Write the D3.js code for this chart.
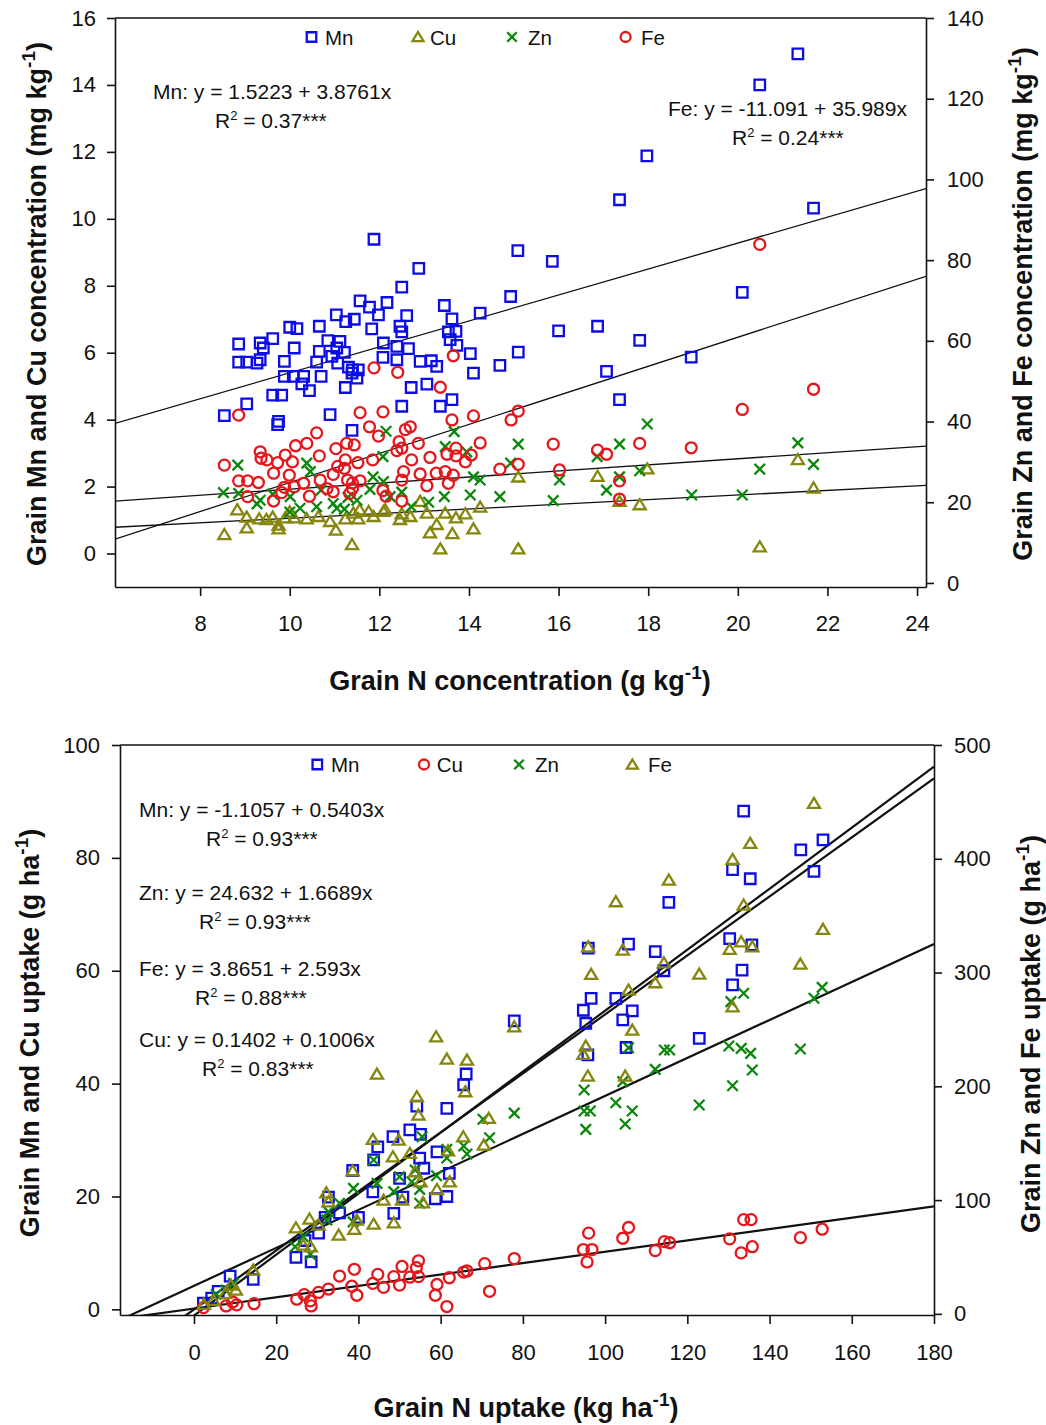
<!DOCTYPE html>
<html lang="en">
<head>
<meta charset="UTF-8">
<title>grain N vs micronutrients</title>
<script src="https://d3js.org/d3.v7.min.js"></script>
<style>
    body{margin:0;background:#fff;}
    svg text{font-family:"Liberation Sans", Arial, sans-serif; fill:#111;}
</style>
</head>
<body>
<svg id="fig" width="1046" height="1425"></svg>
<script>
    // ---- top panel: concentration (x = grain N g/kg) ----
    let concMn = [[11.88,9.39],[15.09,9.05],[15.86,8.73],[12.88,8.52],[12.50,7.96],[21.34,14.93],[20.49,14.0],[17.97,11.88],
        [17.36,10.57],[21.69,10.32],[20.10,7.80],[14.93,7.68],[16.0,6.65],[16.87,6.79],[17.81,6.37],[15.10,6.02],[18.96,5.87],
        [14.69,5.62],[17.07,5.44],[17.36,4.60],[11.57,7.55],[11.78,7.36],[12.17,7.50],[13.45,7.41],[11.04,7.13],[11.25,6.93],
        [11.44,7.0],[11.98,7.13],[12.61,7.11],[13.62,7.01],[14.25,7.18],[10.0,6.76],[10.16,6.72],[10.66,6.79],[11.83,6.71],
        [12.46,6.79],[12.50,6.62],[13.54,6.62],[13.71,6.64],[13.58,6.39],[8.86,6.26],[9.34,6.29],[9.41,6.14],[9.62,6.42],
        [10.10,6.14],[10.85,6.36],[11.12,6.34],[10.66,6.04],[10.94,5.89],[11.05,6.14],[11.22,6.01],[12.09,6.29],[12.39,6.19],
        [12.65,6.12],[12.39,5.79],[12.08,5.86],[13.73,6.22],[14.03,5.97],[8.86,5.72],[9.04,5.72],[9.27,5.69],[9.34,5.79],
        [9.88,5.74],[10.60,5.72],[11.07,5.69],[11.31,5.57],[11.40,5.49],[11.53,5.49],[12.91,5.74],[13.16,5.76],[13.28,5.59],
        [14.10,5.39],[9.88,5.29],[10.08,5.29],[10.31,5.29],[10.27,5.07],[10.44,4.87],[10.70,5.29],[11.39,5.39],[11.50,5.24],
        [11.24,4.96],[12.71,4.96],[13.06,5.06],[9.62,4.73],[9.82,4.73],[9.04,4.47],[8.54,4.12],[12.50,4.40],[13.36,4.40],
        [13.62,4.60],[10.90,4.15],[9.75,3.95],[9.73,3.85],[11.39,3.68]]
    let concCu = [[21.34,2.81],[15.10,2.29],[16.87,2.31],[17.98,2.53],[21.69,1.96],[17.36,1.56],[17.81,1.46],[15.10,0.14],
        [20.49,0.20],[14.25,1.39],[13.92,1.19],[12.91,1.56],[13.06,1.21],[13.47,1.21],[13.71,1.07],[13.28,0.87],[13.13,0.62],
        [13.63,0.60],[14.10,0.74],[13.36,0.14],[11.39,0.27],[8.54,0.57],[9.04,0.77],[9.75,0.74],[9.75,0.85],[11.03,0.70],
        [8.83,1.31],[9.04,1.09],[9.32,1.04],[9.48,1.02],[9.62,1.09],[9.90,1.07],[10.10,1.07],[10.38,1.04],[10.64,1.11],
        [10.90,0.96],[11.24,1.04],[11.42,1.21],[11.56,1.31],[11.76,1.26],[11.87,1.11],[12.09,1.26],[12.13,1.31],[12.46,1.02],
        [12.50,1.19],[12.69,1.11],[11.53,1.04],[10.0,1.25]]
    let concZn = [[17.98,39.4],[15.10,34.4],[17.36,34.4],[21.34,34.7],[14.93,29.7],[16.86,31.3],[21.69,29.4],[20.49,28.2],
        [17.81,27.8],[16.02,25.5],[17.36,26.3],[17.07,23.0],[14.69,21.4],[18.97,21.8],[20.10,21.8],[15.88,20.4],[12.15,37.6],
        [13.67,37.5],[12.08,31.3],[8.84,29.2],[10.38,29.7],[10.46,27.6],[13.47,33.8],[13.95,32.5],[8.52,22.4],[8.86,22.2],
        [9.34,20.5],[9.27,19.6],[10.01,21.4],[10.23,18.5],[10.60,18.9],[10.97,19.7],[11.05,18.5],[11.22,18.3],[11.86,26.3],
        [12.09,25.1],[11.79,23.2],[12.24,21.4],[12.71,18.9],[13.45,21.4],[14.03,21.8],[14.10,26.3],[14.25,25.5],[10.0,17.6],
        [9.62,22.0],[11.5,20.5],[12.5,22.5],[13.1,20.0],[10.7,23.0],[11.3,21.2]]
    let concFe = [[20.49,83.9],[21.69,48.0],[20.10,43.0],[15.10,42.6],[14.94,40.4],[15.88,34.4],[17.81,34.6],[18.96,33.5],
        [16.87,32.9],[17.07,31.9],[15.10,29.4],[14.69,28.2],[16.02,28.0],[17.36,25.3],[17.36,20.8],[13.65,56.3],[11.88,53.3],
        [12.41,52.2],[13.36,48.5],[8.86,41.6],[11.57,42.2],[12.08,42.4],[13.62,40.4],[14.10,41.4],[11.78,38.7],[11.98,36.4],
        [12.58,38.0],[12.69,38.7],[10.60,37.2],[9.34,32.5],[9.36,30.9],[9.49,30.5],[10.13,34.0],[10.38,34.6],[11.03,33.3],
        [11.27,34.6],[11.44,34.2],[12.44,35.0],[12.50,33.4],[12.87,34.6],[14.25,34.7],[9.90,31.7],[10.06,30.0],[10.66,31.5],
        [11.24,30.5],[11.52,29.8],[11.85,30.5],[12.39,32.8],[12.72,30.5],[13.13,31.1],[13.51,31.9],[13.71,33.4],[13.71,31.5],
        [14.05,31.7],[13.92,30.0],[8.54,29.2],[9.73,29.8],[9.64,27.2],[9.99,26.7],[10.97,26.9],[11.07,28.9],[11.22,28.4],
        [11.29,25.5],[11.40,24.8],[11.57,25.3],[12.54,27.6],[12.50,25.5],[12.91,27.0],[13.27,27.2],[13.47,27.6],[13.65,26.7],
        [13.54,24.7],[8.86,25.3],[9.06,25.3],[9.30,24.9],[9.88,23.7],[10.10,23.8],[10.31,24.7],[10.68,25.5],[10.83,23.4],
        [10.97,22.6],[11.40,23.4],[11.34,22.2],[12.08,22.9],[12.15,21.5],[13.06,24.1],[12.50,20.3],[9.06,21.4],[9.64,20.3],
        [9.82,22.4],[10.44,21.5]]
    // fitted lines, x of the printed equations is N in % (g/kg / 10)
    let concFits = [
        {el:"Mn", a:1.5223, b:3.8761, axis:"L"},
        {el:"Cu", a:0.362, b:0.693, axis:"L"},
        {el:"Zn", a:15.71, b:7.53, axis:"R"},
        {el:"Fe", a:-11.091, b:35.989, axis:"R"}]
    let concNotes = [["Mn: y = 1.5223 + 3.8761x", "0.37***"], ["Fe: y = -11.091 + 35.989x", "0.24***"]]
    let concXTicks = [8, 10, 12, 14, 16, 18, 20, 22, 24]
    let concYLTicks = [0, 2, 4, 6, 8, 10, 12, 14, 16]
    let concYRTicks = [0, 20, 40, 60, 80, 100, 120, 140]

    // ---- bottom panel: uptake (x = grain N uptake kg/ha) ----
    let uptMn = [[133.7,88.3],[153.0,83.2],[147.6,81.4],[131.0,77.9],[135.3,76.3],[150.8,77.6],[115.5,72.1],[95.9,64.0],
        [105.7,64.7],[112.2,63.4],[130.3,65.7],[135.7,64.6],[133.3,60.1],[131.0,57.5],[96.6,55.1],[102.6,55.1],[94.7,53.0],
        [106.6,52.9],[104.3,51.3],[95.3,50.7],[114.3,60.0],[77.9,51.1],[122.9,48.0],[105.1,46.4],[95.8,45.1],[66.2,41.7],
        [65.6,39.8],[61.5,35.6],[54.2,36.0],[52.5,31.8],[55.1,31.0],[48.4,30.6],[44.7,28.8],[59.1,27.9],[54.9,26.8],
        [43.7,26.5],[38.6,24.6],[55.9,25.0],[62.1,24.1],[50.0,23.2],[43.5,20.8],[50.8,19.9],[58.7,19.6],[61.5,20.0],
        [48.6,17.0],[32.7,19.9],[31.9,16.3],[35.4,17.1],[40.0,16.3],[30.3,13.5],[27.0,12.2],[24.8,9.2],[28.5,8.4],
        [14.4,5.3],[8.8,5.9],[5.9,3.2],[4.3,2.0],[2.3,1.1]]
    let uptCu = [[152.8,14.2],[147.5,12.7],[133.7,15.9],[135.5,15.9],[130.3,12.5],[135.8,11.1],[133.1,10.0],[114.4,12.0],
        [115.7,11.8],[112.2,10.4],[105.7,14.5],[104.3,12.6],[96.0,13.5],[94.7,10.6],[96.8,10.6],[95.6,8.4],[77.9,9.0],
        [70.7,8.1],[71.9,3.2],[65.6,6.6],[66.4,6.8],[62.1,5.6],[59.1,4.4],[58.7,2.5],[61.5,0.5],[54.6,8.6],[54.1,7.4],
        [50.6,7.6],[54.6,5.8],[52.5,5.7],[48.6,5.8],[50.0,4.3],[46.1,3.9],[44.7,6.2],[43.5,4.6],[39.0,7.1],[38.4,4.1],
        [39.6,2.5],[35.4,5.9],[32.7,3.6],[30.3,3.0],[26.8,2.6],[25.0,1.8],[28.3,1.5],[28.5,0.6],[14.6,1.0],[10.4,0.8],
        [9.4,1.3],[7.8,0.6],[2.3,0.3]]
    let uptZn = [[133.7,281.8],[130.6,274.4],[150.8,277.4],[152.8,287.0],[94.9,196.8],[130.1,235.4],[133.1,233.4],
        [135.4,229.0],[135.8,214.3],[147.5,232.8],[131.0,200.5],[114.4,231.9],[115.7,231.9],[112.2,214.9],[122.9,183.6],
        [105.7,233.9],[104.3,204.1],[102.6,185.6],[106.6,178.3],[104.9,166.9],[94.9,178.3],[96.4,178.3],[95.3,162.2],
        [77.9,176.4],[70.3,171.0],[71.9,154.8],[65.6,147.5],[66.4,140.5],[61.5,144.6],[61.5,137.0],[59.0,121.4],[55.5,155.7],
        [53.8,126.4],[54.9,109.4],[54.9,97.2],[50.0,120.5],[48.6,107.4],[44.5,114.7],[43.7,135.2],[38.8,110.3],[38.7,80.9],
        [35.4,97.2],[32.7,89.8],[32.3,82.5],[26.6,67.8],[24.6,59.0],[28.3,52.3],[9.6,26.8],[7.8,21.0],[5.4,17.0],[53.0,116.1]]
    let uptFe = [[150.8,448.7],[135.3,413.6],[131.0,399.5],[115.5,381.3],[102.6,362.3],[133.7,359.4],[153.0,338.0],
        [95.9,322.7],[104.3,319.8],[130.3,320.4],[133.1,327.1],[135.8,322.7],[114.3,308.6],[147.5,307.5],[96.6,298.5],
        [122.9,298.7],[112.2,291.1],[105.7,284.6],[131.0,270.0],[77.9,252.4],[106.6,249.5],[95.3,235.4],[94.7,228.1],
        [95.8,209.1],[104.9,209.1],[58.9,243.6],[44.5,210.8],[61.5,224.0],[66.4,223.1],[66.0,195.3],[54.2,190.9],
        [54.6,174.8],[71.7,171.9],[65.5,155.7],[70.5,148.4],[61.8,143.4],[43.5,153.4],[49.8,152.8],[48.4,138.1],
        [52.5,141.1],[38.6,125.8],[53.8,125.0],[55.1,116.1],[62.2,116.1],[59.1,109.4],[46.1,100.0],[50.6,100.0],
        [55.7,97.7],[48.6,80.1],[43.7,78.9],[39.0,74.3],[39.6,82.5],[35.2,69.3],[32.2,106.5],[32.7,98.6],[28.1,83.4],
        [30.3,78.1],[24.8,75.7],[26.6,60.5],[28.4,59.0],[14.4,38.5],[9.0,25.3],[10.2,20.9],[7.6,17.9],[4.7,12.0],[2.4,8.5]]
    let uptFits = [
        {el:"Mn", a:-1.1057, b:0.5403, axis:"L"},
        {el:"Zn", a:24.632, b:1.6689, axis:"R"},
        {el:"Fe", a:3.8651, b:2.593, axis:"R"},
        {el:"Cu", a:0.1402, b:0.1006, axis:"L"}]
    let uptNotes = [["Mn: y = -1.1057 + 0.5403x", "0.93***"], ["Zn: y = 24.632 + 1.6689x", "0.93***"],
        ["Fe: y = 3.8651 + 2.593x", "0.88***"], ["Cu: y = 0.1402 + 0.1006x", "0.83***"]]
    let uptXTicks = [0, 20, 40, 60, 80, 100, 120, 140, 160, 180]
    let uptYLTicks = [0, 20, 40, 60, 80, 100]
    let uptYRTicks = [0, 100, 200, 300, 400, 500]

    let colors = {blue:"#0c0ce6", red:"#e5171c", green:"#0c870c", olive:"#86860e"}
    let svg = d3.select("#fig")

    function symPath(shape, s){
        let r = s / 2
        if (shape === "square") return `M${-r},${-r}h${s}v${s}h${-s}Z`
        if (shape === "circle") return `M${-r},0a${r},${r} 0 1,0 ${s},0a${r},${r} 0 1,0 ${-s},0Z`
        if (shape === "triangle") return `M0,${-r*0.95}L${r*1.05},${r*0.8}L${-r*1.05},${r*0.8}Z`
        return `M${-r},${-r}L${r},${r}M${-r},${r}L${r},${-r}`
    }

    // text with one raised piece, e.g. R^2 or kg^-1
    function supText(sel, before, sup, after, supSize, rise){
        sel.append("tspan").text(before)
        sel.append("tspan").attr("dy", -rise).style("font-size", supSize + "px").text(sup)
        sel.append("tspan").attr("dy", rise).text(after)
        return sel
    }

    function styleAxis(ax, fs){
        ax.attr("font-family", null).attr("font-size", null)
        ax.selectAll("text").style("font-size", fs + "px").style("fill", "#111")
        ax.selectAll("line,path").attr("stroke", "#111").attr("stroke-width", 1.6)
    }

    function drawPanel(p){
        let x = d3.scaleLinear().domain(p.xDom).range([p.left, p.right])
        let yL = d3.scaleLinear().domain(p.yLDom).range([p.bottom, p.top])
        let yR = d3.scaleLinear().domain(p.yRDom).range([p.bottom, p.top])
        let g = svg.append("g")
        g.append("clipPath").attr("id", "clip" + p.id).append("rect")
            .attr("x", p.left).attr("y", p.top)
            .attr("width", p.right - p.left).attr("height", p.bottom - p.top)

        // regression lines
        let lg = g.append("g").attr("clip-path", `url(#clip${p.id})`)
        p.fits.forEach(function (f){
            let ys = f.axis === "L" ? yL : yR
            let line = d3.line().x(d => x(d)).y(d => ys(f.a + f.b * d * p.eqScale))
            lg.append("path").datum(p.xDom).attr("d", line)
                .attr("fill", "none").attr("stroke", "#111").attr("stroke-width", p.lineW)
        })

        // points
        p.series.forEach(function (s){
            let ys = s.axis === "L" ? yL : yR
            g.append("g").selectAll("path").data(s.data).join("path")
                .attr("transform", d => `translate(${x(d[0])},${ys(d[1])})`)
                .attr("d", symPath(s.shape, s.size))
                .attr("fill", "none").attr("stroke", s.color).attr("stroke-width", 2.3)
        })

        // axes and frame
        let axL = g.append("g").attr("transform", `translate(${p.left},0)`)
            .call(d3.axisLeft(yL).tickValues(p.yLTicks).tickSize(8).tickSizeOuter(0).tickPadding(p.padL))
        let axR = g.append("g").attr("transform", `translate(${p.right},0)`)
            .call(d3.axisRight(yR).tickValues(p.yRTicks).tickSize(8).tickSizeOuter(0).tickPadding(p.padR))
        let axB = g.append("g").attr("transform", `translate(0,${p.bottom})`)
            .call(d3.axisBottom(x).tickValues(p.xTicks).tickSize(9).tickSizeOuter(0).tickPadding(p.padB))
        styleAxis(axL, 22); styleAxis(axR, 22); styleAxis(axB, 22)
        g.append("line").attr("x1", p.left).attr("x2", p.right).attr("y1", p.top).attr("y2", p.top)
            .attr("stroke", "#111").attr("stroke-width", 1.6)

        // legend
        p.series.forEach(function (s, i){
            g.append("path").attr("transform", `translate(${p.legMark[i]},${p.legY})`)
                .attr("d", symPath(s.shape, s.size - 1))
                .attr("fill", "none").attr("stroke", s.color).attr("stroke-width", 2.3)
            g.append("text").attr("x", p.legText[i]).attr("y", p.legY + 7.5)
                .style("font-size", "20.5px").text(s.label)
        })

        // equations
        p.notes.forEach(function (n, i){
            let pos = p.notePos[i]
            g.append("text").attr("x", pos[0]).attr("y", pos[1]).style("font-size", "21px").text(n[0])
            supText(g.append("text").attr("x", pos[2]).attr("y", pos[1] + 29).style("font-size", "21px"),
                "R", "2", " = " + n[1], 13, 8)
        })

        // axis titles
        supText(g.append("text").attr("x", p.xTitle[0]).attr("y", p.xTitle[1])
            .attr("text-anchor", "middle").style("font-size", "27px").style("font-weight", "bold"),
            p.titles[0], "-1", ")", 19, 11)
        supText(g.append("text").attr("transform", `translate(${p.yLTitle[0]},${p.yLTitle[1]}) rotate(-90)`)
            .attr("text-anchor", "middle").style("font-size", "27px").style("font-weight", "bold"),
            p.titles[1], "-1", ")", 19, 11)
        supText(g.append("text").attr("transform", `translate(${p.yRTitle[0]},${p.yRTitle[1]}) rotate(-90)`)
            .attr("text-anchor", "middle").style("font-size", "27px").style("font-weight", "bold"),
            p.titles[2], "-1", ")", 19, 11)
    }

    drawPanel({
        id: "conc", left: 115, right: 926, top: 18, bottom: 587,
        xDom: [6.1, 24.2], yLDom: [-1, 16], yRDom: [-1, 140], eqScale: 0.1, lineW: 1.3,
        xTicks: concXTicks, yLTicks: concYLTicks, yRTicks: concYRTicks, padL: 11, padR: 13, padB: 19,
        series: [
            {label:"Mn", shape:"square", size:10.5, color:colors.blue, axis:"L", data:concMn},
            {label:"Cu", shape:"triangle", size:11.5, color:colors.olive, axis:"L", data:concCu},
            {label:"Zn", shape:"x", size:10.5, color:colors.green, axis:"R", data:concZn},
            {label:"Fe", shape:"circle", size:11, color:colors.red, axis:"R", data:concFe}],
        fits: concFits,
        legY: 37, legMark: [311.5, 418, 512, 625.6], legText: [325, 430, 528, 641],
        notes: concNotes, notePos: [[153, 99, 215], [668, 116, 732]],
        titles: ["Grain N concentration (g kg", "Grain Mn and Cu concentration (mg kg", "Grain Zn and Fe concentration (mg kg"],
        xTitle: [520, 690], yLTitle: [46, 304], yRTitle: [1032, 304]
    })

    drawPanel({
        id: "upt", left: 120, right: 934, top: 745, bottom: 1315,
        xDom: [-18, 180], yLDom: [-1, 100], yRDom: [-1, 500], eqScale: 1, lineW: 2.2,
        xTicks: uptXTicks, yLTicks: uptYLTicks, yRTicks: uptYRTicks, padL: 12, padR: 12, padB: 20,
        series: [
            {label:"Mn", shape:"square", size:10.5, color:colors.blue, axis:"L", data:uptMn},
            {label:"Cu", shape:"circle", size:11, color:colors.red, axis:"L", data:uptCu},
            {label:"Zn", shape:"x", size:10.5, color:colors.green, axis:"R", data:uptZn},
            {label:"Fe", shape:"triangle", size:11.5, color:colors.olive, axis:"R", data:uptFe}],
        fits: uptFits,
        legY: 764.5, legMark: [317.3, 424, 519, 632.4], legText: [331, 436.7, 535, 648],
        notes: uptNotes, notePos: [[139, 817, 206], [139, 900, 199], [139, 976, 195], [139, 1047, 202]],
        titles: ["Grain N uptake (kg ha", "Grain Mn and Cu uptake (g ha", "Grain Zn and Fe uptake (g ha"],
        xTitle: [526, 1417], yLTitle: [39, 1033], yRTitle: [1040, 1034]
    })
</script>
</body>
</html>
